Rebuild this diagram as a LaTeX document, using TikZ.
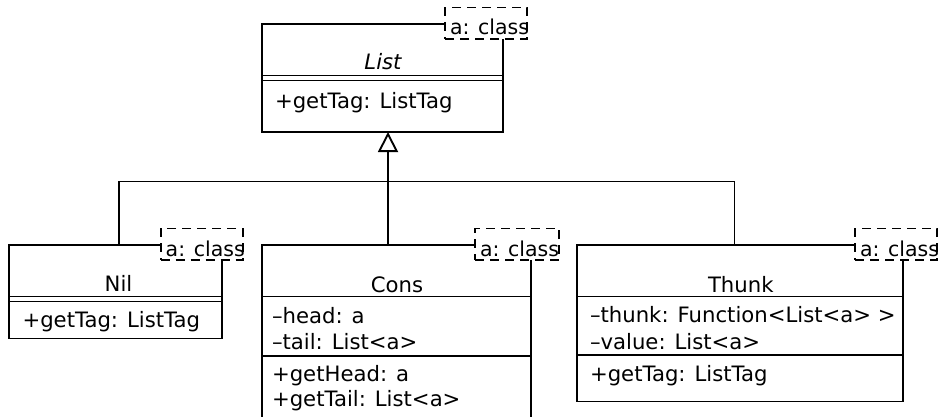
\documentclass[tikz,border=0pt]{standalone}
\usepackage{fontspec}
\setmainfont{DejaVu Sans}
\usetikzlibrary{arrows.meta,calc}
\begin{document}
\begin{tikzpicture}[x=1pt,y=-1pt,
  line width=1.9pt,
  classbox/.style={draw, anchor=north west, inner sep=0pt, outer sep=0pt, line width=1.9pt},
  tmpl/.style={draw, dashed, dash pattern=on 9pt off 6pt, fill=white, anchor=north west, inner sep=0pt, outer sep=0pt, minimum width=82pt, minimum height=31.5pt, line width=1.6pt},
  txt/.style={inner sep=0pt, outer sep=0pt, font=\fontsize{21.2}{25}\selectfont},
  title/.style={txt, anchor=base},
  member/.style={txt, anchor=base west},
  ttxt/.style={inner sep=0pt, outer sep=0pt, anchor=base west, font=\fontsize{20.5}{25}\selectfont},
  conn/.style={draw, line width=1.9pt},
  gen/.style={-{Triangle[open, length=20pt, width=20pt, fill=white]}}
]
\useasboundingbox (0,0) rectangle (942,417);
\clip (0,0) rectangle (942,417);

% ---------- List ----------
\node[classbox, minimum width=241pt, minimum height=108pt] (list) at (262,24) {};
\draw ([yshift=-51.5pt]list.north west) -- ([yshift=-51.5pt]list.north east);
\draw ([yshift=-56.5pt]list.north west) -- ([yshift=-56.5pt]list.north east);
\node[tmpl] (listT) at (445,7.5) {};
\node[ttxt] (listTt) at ([xshift=5pt,yshift=4pt]listT.south west) {a: class};
\node[title] (listN) at (383,70) {\itshape List};
\node[member] (listM1) at (275,109) {+getTag: ListTag};

% ---------- Nil ----------
\node[classbox, minimum width=213pt, minimum height=93.5pt] (nil) at (8.7,245) {};
\draw ([yshift=-51.5pt]nil.north west) -- ([yshift=-51.5pt]nil.north east);
\draw ([yshift=-56.5pt]nil.north west) -- ([yshift=-56.5pt]nil.north east);
\node[tmpl] (nilT) at (160.7,228.5) {};
\node[ttxt] (nilTt) at ([xshift=5pt,yshift=4pt]nilT.south west) {a: class};
\node[title] (nilN) at (118.5,291.5) {Nil};
\node[member] (nilM1) at (22.5,327) {+getTag: ListTag};

% ---------- Cons ----------
\node[classbox, minimum width=269.3pt, minimum height=185pt] (cons) at (261.7,245) {};
\draw ([yshift=-51.5pt]cons.north west) -- ([yshift=-51.5pt]cons.north east);
\draw ([yshift=-111pt]cons.north west) -- ([yshift=-111pt]cons.north east);
\node[tmpl, minimum width=84pt] (consT) at (475,228.5) {};
\node[ttxt] (consTt) at ([xshift=5pt,yshift=4pt]consT.south west) {a: class};
\node[title] (consN) at (397,292.5) {Cons};
\node[member] (consA1) at (272,323) {–head: a};
\node[member] (consA2) at (272,349.5) {–tail: List<a>};
\node[member] (consM1) at (272,381) {+getHead: a};
\node[member] (consM2) at (272,406.5) {+getTail: List<a>};

% ---------- Thunk ----------
\node[classbox, minimum width=326.6pt, minimum height=156.5pt] (thunk) at (576.7,245) {};
\draw ([yshift=-51.5pt]thunk.north west) -- ([yshift=-51.5pt]thunk.north east);
\draw ([yshift=-110pt]thunk.north west) -- ([yshift=-110pt]thunk.north east);
\node[tmpl] (thunkT) at (855,228.5) {};
\node[ttxt] (thunkTt) at ([xshift=5pt,yshift=4pt]thunkT.south west) {a: class};
\node[title] (thunkN) at (740.8,292.5) {Thunk};
\node[member] (thunkA1) at (590,322.5) {–thunk: Function<List<a> >};
\node[member] (thunkA2) at (590,349) {–value: List<a>};
\node[member] (thunkM1) at (590,381) {+getTag: ListTag};

% ---------- generalization ----------
\coordinate (bus) at (388,181.5);
\draw[conn] ([xshift=3.8pt]nil.north) |- (bus) -| ([xshift=-5.5pt]thunk.north);
\draw[conn, gen] ([xshift=-8.35pt]cons.north) -- ([xshift=5.5pt]list.south);
\end{tikzpicture}
\end{document}
